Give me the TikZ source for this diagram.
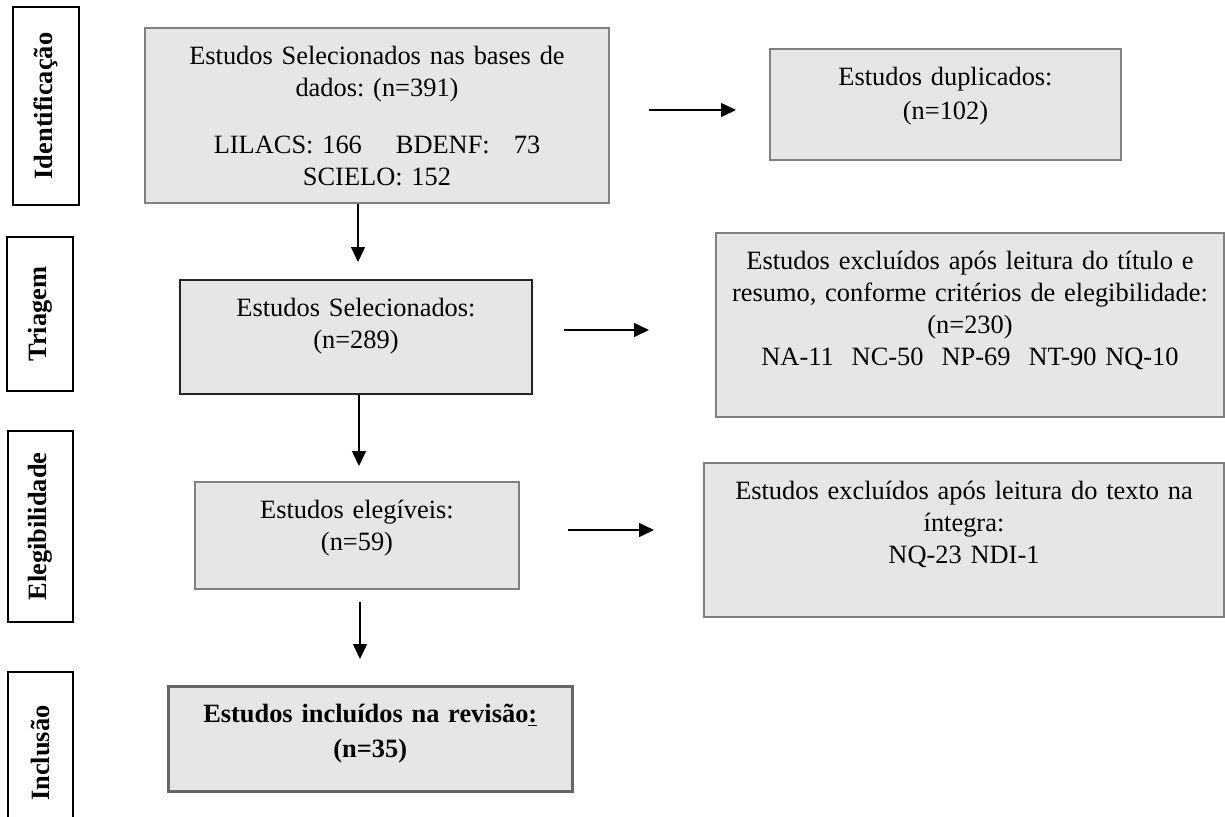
\documentclass[tikz,border=0pt]{standalone}
\usepackage{fontspec}
\setmainfont{Liberation Serif}
\usetikzlibrary{positioning,arrows.meta,calc}
\definecolor{caixafundo}{HTML}{E6E6E6}
\definecolor{caixaborda}{HTML}{808080}
\frenchspacing

\begin{document}
\begin{tikzpicture}[x=0.5pt, y=-0.5pt,
    every node/.style={font=\fontsize{13.2}{16}\selectfont\frenchspacing},
    caixa/.style={draw=caixaborda, fill=caixafundo, line width=1pt, inner sep=0pt,
        align=center, anchor=north west, text height=18pt},
    etapa/.style={draw, line width=1pt, fill=white, rotate=90, inner sep=0pt,
        font=\fontsize{13.2}{16}\selectfont\bfseries},
    seta/.style={-{Triangle[length=7.5pt,width=7pt]}, line width=0.75pt}]
        \useasboundingbox (0,0) rectangle (1225,816);

        % Etapas (rótulos laterais)
        \node[etapa, minimum width=99pt, minimum height=33pt] (ident) at (46,106) {Identificação};
        \node[etapa, minimum width=77pt, minimum height=33pt] (triag) at (40,314) {Triagem};
        \node[etapa, minimum width=95.5pt, minimum height=32.5pt] (eleg) at (40.5,526.5) {Elegibilidade};
        \node[etapa, minimum width=81pt, minimum height=32.5pt] (incl) at (40.5,753) {Inclusão};

        % Fluxo principal
        \node[caixa, text width=232pt, text depth=69.5pt] (sel391) at (144,27)
            {Estudos Selecionados nas bases de\\ dados: (n=391)\\[12.5pt]
             LILACS: 166\hspace{17pt}BDENF:\hspace{12pt}73\\ SCIELO: 152};
        \node[caixa, draw=black!85, text width=176pt, text depth=39pt] (sel289) at (179,279)
            {Estudos Selecionados:\\ (n=289)};
        \node[caixa, text width=162pt, text depth=35.5pt] (eleg59) at (194,481)
            {Estudos elegíveis:\\ (n=59)};
        \node[caixa, draw=black!60, line width=1.25pt, text width=202pt, text depth=34.5pt,
            font=\fontsize{13.2}{16}\selectfont\bfseries] (incl35) at (167,685)
            {Estudos incluídos na revisão\underline{:}\\[1.5pt] (n=35)};

        % Exclusões
        \node[caixa, text width=175.5pt, text depth=37.5pt] (dup) at (769,48)
            {Estudos duplicados:\\[1pt] (n=102)};
        \node[caixa, text width=254pt, text depth=74pt] (excl1) at (715,232)
            {Estudos excluídos após leitura do título e\\ resumo, conforme critérios de elegibilidade:\\
             (n=230)\\ NA-11\hspace{9pt}NC-50\hspace{9pt}NP-69\hspace{9pt}NT-90 NQ-10};
        \node[caixa, text width=260pt, text depth=59pt] (excl2) at (703,462)
            {Estudos excluídos após leitura do texto na\\ íntegra:\\ NQ-23 NDI-1};

        \draw[seta, shorten >=8.5pt] (sel391.south -| 358,0) -- (sel289.north -| 358,0);
        \draw[seta, shorten >=7.5pt] (sel289.south -| 359,0) -- (eleg59.north -| 359,0);
        \draw[seta, shorten <=6pt, shorten >=13pt] (eleg59.south -| 360,0) -- (incl35.north -| 360,0);

        \draw[seta, shorten <=19.5pt, shorten >=16.5pt] (sel391.east |- 0,110) -- (dup.west |- 0,110);
        \draw[seta, shorten <=15.5pt, shorten >=33pt] (sel289.east |- 0,330) -- (excl1.west |- 0,330);
        \draw[seta, shorten <=24pt, shorten >=24.5pt] (eleg59.east |- 0,530) -- (excl2.west |- 0,530);
    \end{tikzpicture}
\end{document}
